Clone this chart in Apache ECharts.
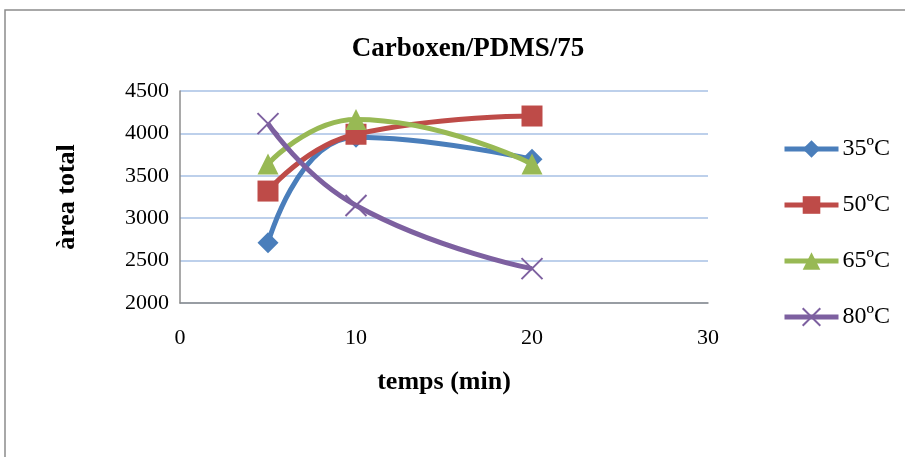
<!DOCTYPE html>
<html><head><meta charset="utf-8">
<script src="https://cdn.jsdelivr.net/npm/echarts@6/dist/echarts.min.js"></script>
<style>html,body{margin:0;padding:0;background:#fff}#c{width:905px;height:457px}</style>
</head><body><div id="c"></div>
<script>
const times = [5, 10, 20];
const s35 = [2710, 3955, 3695];
const s50 = [3320, 3990, 4205];
const s65 = [3640, 4165, 3640];
const s80 = [4115, 3150, 2405];
const seriesNames = ['35ºC', '50ºC', '65ºC', '80ºC'];
const yTicks = [2000, 2500, 3000, 3500, 4000, 4500];
const xTicks = [0, 10, 20, 30];

const colors = ['#4a7ebb', '#be4b48', '#98b954', '#7d60a0'];
const symbols = ['diamond', 'rect', 'triangle', 'path://M0,0 L10,10 M10,0 L0,10'];
const allData = [s35, s50, s65, s80];
const font = '"Liberation Serif", "DejaVu Serif", serif';

const chart = echarts.init(document.getElementById('c'), null, {renderer: 'canvas'});
chart.setOption({
  animation: false,
  color: colors,
  textStyle: {fontFamily: font},
  title: {
    text: 'Carboxen/PDMS/75', left: 463, top: 31, textAlign: 'center',
    textStyle: {fontFamily: font, fontWeight: 'bold', fontSize: 27, color: '#000'}
  },
  graphic: [{
    type: 'polyline', shape: {points: [[5, 457], [5, 10], [905, 10]]},
    style: {stroke: '#8c8c8c', lineWidth: 1.5, fill: null}
  }],
  grid: {left: 180, right: 197, top: 91, bottom: 154},
  xAxis: {
    type: 'value', min: 0, max: 30, interval: 10,
    name: 'temps (min)', nameLocation: 'middle', nameGap: 66,
    nameTextStyle: {fontFamily: font, fontWeight: 'bold', fontSize: 26, color: '#000'},
    axisLine: {show: true, lineStyle: {color: '#8c8c8c', width: 1.5}},
    axisTick: {show: false},
    splitLine: {show: false},
    axisLabel: {fontFamily: font, fontSize: 22, color: '#000', margin: 24,
      formatter: v => xTicks.includes(v) ? String(v) : ''}
  },
  yAxis: {
    type: 'value', min: 2000, max: 4500, interval: 500,
    name: 'àrea total', nameLocation: 'middle', nameGap: 100,
    nameTextStyle: {fontFamily: font, fontWeight: 'bold', fontSize: 26, color: '#000'},
    axisLine: {show: true, lineStyle: {color: '#8c8c8c', width: 1.5}},
    axisTick: {show: false},
    splitLine: {show: true, lineStyle: {color: '#a7c0e4', width: 1.5}},
    axisLabel: {fontFamily: font, fontSize: 22, color: '#000', margin: 11,
      formatter: v => yTicks.includes(v) ? String(v) : ''}
  },
  legend: {
    orient: 'vertical', left: 782, top: 137, itemGap: 32, padding: 0,
    itemWidth: 54, itemHeight: 22,
    lineStyle: {width: 5},
    textStyle: {fontFamily: font, fontSize: 24, color: '#000', padding: [0, 0, 0, -1]},
    data: seriesNames
  },
  series: seriesNames.map((n, i) => ({
    name: n, type: 'line', smooth: 0.5,
    data: times.map((t, j) => [t, allData[i][j]]),
    symbol: symbols[i],
    symbolSize: 21,
    lineStyle: {width: 5, color: colors[i]},
    itemStyle: i === 3 ? {color: 'transparent', borderColor: colors[i], borderWidth: 2} : {color: colors[i]},
    z: 2 + i
  }))
});
</script></body></html>
